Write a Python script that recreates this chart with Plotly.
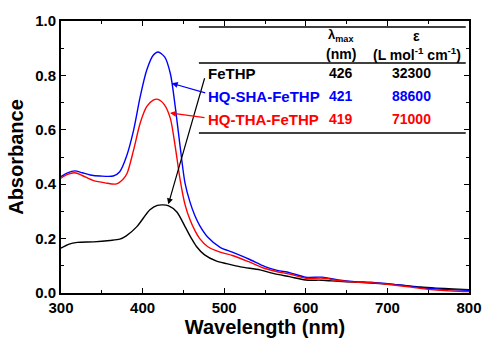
import plotly.graph_objects as go

# ---------------- data ----------------
wl_sha = [300, 308, 317, 326, 336, 348, 364, 372, 380, 389, 397, 405, 413, 419, 427, 434, 440, 446, 452, 458,
          464, 470, 480, 495, 510, 530, 550, 565, 580, 600, 620, 640, 660, 680, 700, 720, 740, 760, 780, 800]
abs_sha = [0.428, 0.442, 0.449, 0.442, 0.434, 0.430, 0.430, 0.446, 0.500, 0.599, 0.721, 0.819, 0.874, 0.886,
           0.868, 0.807, 0.685, 0.538, 0.404, 0.335, 0.285, 0.248, 0.205, 0.168, 0.150, 0.125, 0.097, 0.083,
           0.075, 0.058, 0.058, 0.048, 0.042, 0.040, 0.034, 0.028, 0.020, 0.015, 0.012, 0.010]

wl_tha = [300, 308, 317, 326, 340, 354, 368, 376, 381, 389, 397, 405, 413, 419, 427, 434, 440, 446, 452, 458,
          464, 470, 480, 495, 510, 530, 550, 565, 580, 600, 620, 640, 660, 680, 700, 720, 740, 760, 780, 800]
abs_tha = [0.422, 0.436, 0.442, 0.432, 0.413, 0.405, 0.401, 0.418, 0.440, 0.526, 0.624, 0.685, 0.709, 0.712,
           0.691, 0.642, 0.538, 0.416, 0.325, 0.270, 0.230, 0.200, 0.170, 0.150, 0.138, 0.115, 0.090, 0.078,
           0.070, 0.054, 0.055, 0.046, 0.040, 0.038, 0.032, 0.025, 0.017, 0.011, 0.007, 0.005]

wl_fe = [300, 310, 320, 340, 360, 372, 380, 393, 409, 418, 425, 432, 442, 452, 460, 466, 476, 490, 503, 520,
         544, 560, 580, 600, 620, 640, 660, 680, 700, 720, 740, 760, 780, 800]
abs_fe = [0.165, 0.180, 0.186, 0.188, 0.193, 0.198, 0.210, 0.244, 0.306, 0.322, 0.324, 0.320, 0.298, 0.244,
          0.200, 0.171, 0.140, 0.118, 0.108, 0.096, 0.085, 0.072, 0.060, 0.048, 0.047, 0.043, 0.040, 0.037,
          0.033, 0.028, 0.022, 0.018, 0.015, 0.012]

compounds = ["FeTHP", "HQ-SHA-FeTHP", "HQ-THA-FeTHP"]
lambda_max = ["426", "421", "419"]
epsilon = ["32300", "88600", "71000"]
colors = ["black", "blue", "red"]

x_ticks = [300, 400, 500, 600, 700, 800]
y_ticks = [0.0, 0.2, 0.4, 0.6, 0.8, 1.0]

FONT = "Arial, 'Liberation Sans', sans-serif"

fig = go.Figure()
fig.add_trace(go.Scatter(x=wl_fe, y=abs_fe, mode="lines",
                         line=dict(color="black", width=1.4, shape="spline", smoothing=0.8)))
fig.add_trace(go.Scatter(x=wl_sha, y=abs_sha, mode="lines",
                         line=dict(color="blue", width=1.4, shape="spline", smoothing=0.8)))
fig.add_trace(go.Scatter(x=wl_tha, y=abs_tha, mode="lines",
                         line=dict(color="red", width=1.4, shape="spline", smoothing=0.8)))

# table lines
for yv in [0.978, 0.846, 0.588]:
    fig.add_shape(type="line", x0=469, x1=796, y0=yv, y1=yv, xref="x", yref="y",
                  line=dict(color="black", width=1.5))

ann = []
label_y = [0.808, 0.724, 0.638]
for name, lm, ep, c, yv in zip(compounds, lambda_max, epsilon, colors, label_y):
    ann.append(dict(x=477.7, y=yv, xref="x", yref="y", text="<b>%s</b>" % name, showarrow=False,
                    xanchor="left", yanchor="middle", font=dict(family=FONT, size=15, color=c)))
    ann.append(dict(x=643, y=yv, xref="x", yref="y", text="<b>%s</b>" % lm, showarrow=False,
                    xanchor="center", yanchor="middle", font=dict(family=FONT, size=14, color=c)))
    ann.append(dict(x=730, y=yv, xref="x", yref="y", text="<b>%s</b>" % ep, showarrow=False,
                    xanchor="center", yanchor="middle", font=dict(family=FONT, size=14, color=c)))

ann.append(dict(x=643, y=0.945, xref="x", yref="y", text="<b>λ<sub>max</sub></b>", showarrow=False,
                xanchor="center", yanchor="middle", font=dict(family=FONT, size=13, color="black")))
ann.append(dict(x=643, y=0.877, xref="x", yref="y", text="<b>(nm)</b>", showarrow=False,
                xanchor="center", yanchor="middle", font=dict(family=FONT, size=14, color="black")))
ann.append(dict(x=736, y=0.945, xref="x", yref="y", text="<b>ε</b>", showarrow=False,
                xanchor="center", yanchor="middle", font=dict(family=FONT, size=14, color="black")))
ann.append(dict(x=736, y=0.877, xref="x", yref="y", text="<b>(L mol<sup>-1</sup> cm<sup>-1</sup>)</b>",
                showarrow=False, xanchor="center", yanchor="middle",
                font=dict(family=FONT, size=14, color="black")))

# arrows (head at x,y ; tail at ax,ay)
arrows = [((431.5, 0.326), (476.5, 0.795), "black"),
          ((435.7, 0.771), (478.6, 0.734), "blue"),
          ((433.6, 0.662), (477.7, 0.644), "red")]
for (hx, hy), (tx, ty), c in arrows:
    ann.append(dict(x=hx, y=hy, ax=tx, ay=ty, xref="x", yref="y", axref="x", ayref="y", text="",
                    showarrow=True, arrowhead=2, arrowsize=1, arrowwidth=1.2, arrowcolor=c))

axis_common = dict(showline=True, linewidth=2, linecolor="black", mirror="allticks", ticks="inside",
                   ticklen=5, tickwidth=1.2, tickcolor="black", showgrid=False, zeroline=False,
                   automargin=False,
                   tickfont=dict(family=FONT, size=15, color="black", weight="bold"))

fig.update_layout(
    width=483, height=338, showlegend=False,
    margin=dict(l=61, r=14, t=21, b=45),
    paper_bgcolor="white", plot_bgcolor="white",
    annotations=ann,
    xaxis=dict(range=[300, 800], tickvals=x_ticks, ticktext=[str(v) for v in x_ticks],
               minor=dict(dtick=50, tick0=300, ticks="inside", ticklen=3, tickcolor="black"),
               title=dict(text="Wavelength (nm)", standoff=4,
                          font=dict(family=FONT, size=20, color="black", weight="bold")),
               **axis_common),
    yaxis=dict(range=[0, 1.0], tickvals=y_ticks, ticktext=["%.1f" % v for v in y_ticks],
               minor=dict(dtick=0.1, tick0=0, ticks="inside", ticklen=3, tickcolor="black"),
               title=dict(text="Absorbance", standoff=6,
                          font=dict(family=FONT, size=20, color="black", weight="bold")),
               **axis_common),
)

fig.write_html("out.html", config={"displayModeBar": False},
               post_script="document.body.style.margin='0';document.body.style.padding='0';"
                           "document.documentElement.style.overflow='hidden';")
